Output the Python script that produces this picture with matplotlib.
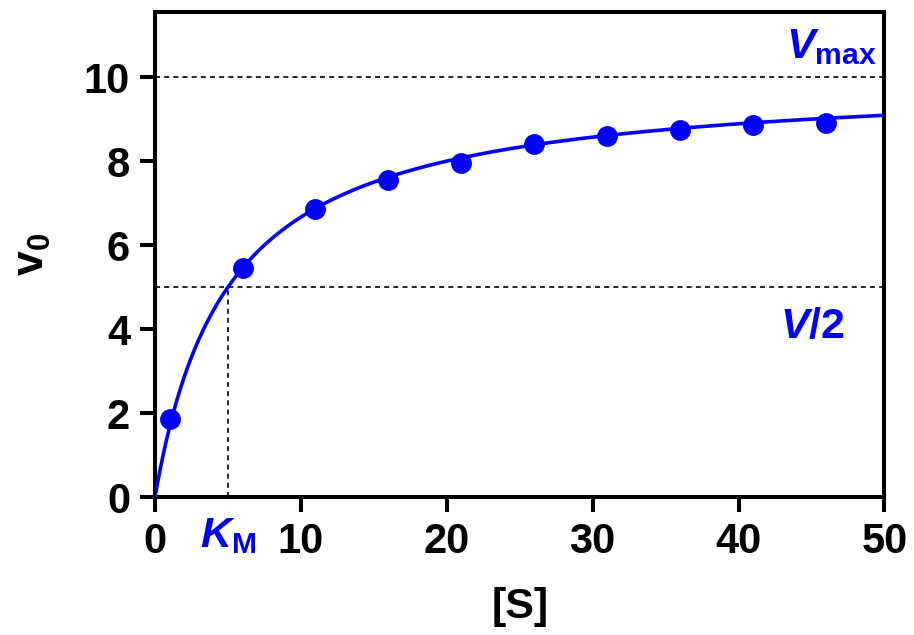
import numpy as np
import matplotlib
matplotlib.use("Agg")
import matplotlib.pyplot as plt

# substrate concentrations and measured initial rates
s_conc = [1, 6, 11, 16, 21, 26, 31, 36, 41, 46]
v0 = [1.85, 5.45, 6.85, 7.55, 7.95, 8.4, 8.6, 8.75, 8.85, 8.9]
# fitted Michaelis-Menten parameters
vmax = 10
km = 5
x_ticks = [0, 10, 20, 30, 40, 50]
y_ticks = [0, 2, 4, 6, 8, 10]

plt.rcParams["font.family"] = ["Liberation Sans", "DejaVu Sans"]
plt.rcParams["font.weight"] = "bold"
plt.rcParams["mathtext.fontset"] = "custom"
plt.rcParams["mathtext.rm"] = "Liberation Sans:bold"
plt.rcParams["mathtext.it"] = "Liberation Sans:italic:bold"
plt.rcParams["mathtext.bf"] = "Liberation Sans:bold"

blue = "#0000ff"

fig = plt.figure(figsize=(9.14, 6.35), dpi=100)
ax = fig.add_axes([0.1696, 0.2173, 0.7980, 0.7637])

# fit curve
xs = np.linspace(0, 50, 400)
ax.plot(xs, vmax * xs / (km + xs), color=blue, lw=2.6, zorder=3)
ax.plot(s_conc, v0, "o", color=blue, ms=14, zorder=4)

# guide lines
dash = (0, (3, 2.5))
ax.plot([0, 50], [vmax, vmax], ls=dash, color="black", lw=1.2)
ax.plot([0, 50], [vmax / 2, vmax / 2], ls=dash, color="black", lw=1.2)
ax.plot([km, km], [0, vmax / 2], ls=dash, color="black", lw=1.2)

ax.set_xlim(0, 50)
ax.set_ylim(0, 11.55)
ax.set_xticks(x_ticks)
ax.set_yticks(y_ticks)
for sp in ax.spines.values():
    sp.set_linewidth(2.9)
ax.tick_params(direction="out", length=11, width=2.9, labelsize=30, pad=7)

ax.set_xlabel("[S]", fontsize=31, fontweight="bold", labelpad=18)
ax.set_ylabel(r"$\mathrm{v}_\mathrm{0}$", fontsize=32, labelpad=22)

ax.text(49.5, 10.25, r"$V_{\mathrm{max}}$", color=blue, fontsize=31,
        ha="right", va="bottom")
ax.text(47.3, 4.05, r"$V/2$", color=blue, fontsize=31, ha="right", va="center")
ax.text(km, -0.45, r"$K_{\mathrm{M}}$", color=blue, fontsize=31,
        ha="center", va="top", clip_on=False)

fig.savefig("out.png", dpi=100)
